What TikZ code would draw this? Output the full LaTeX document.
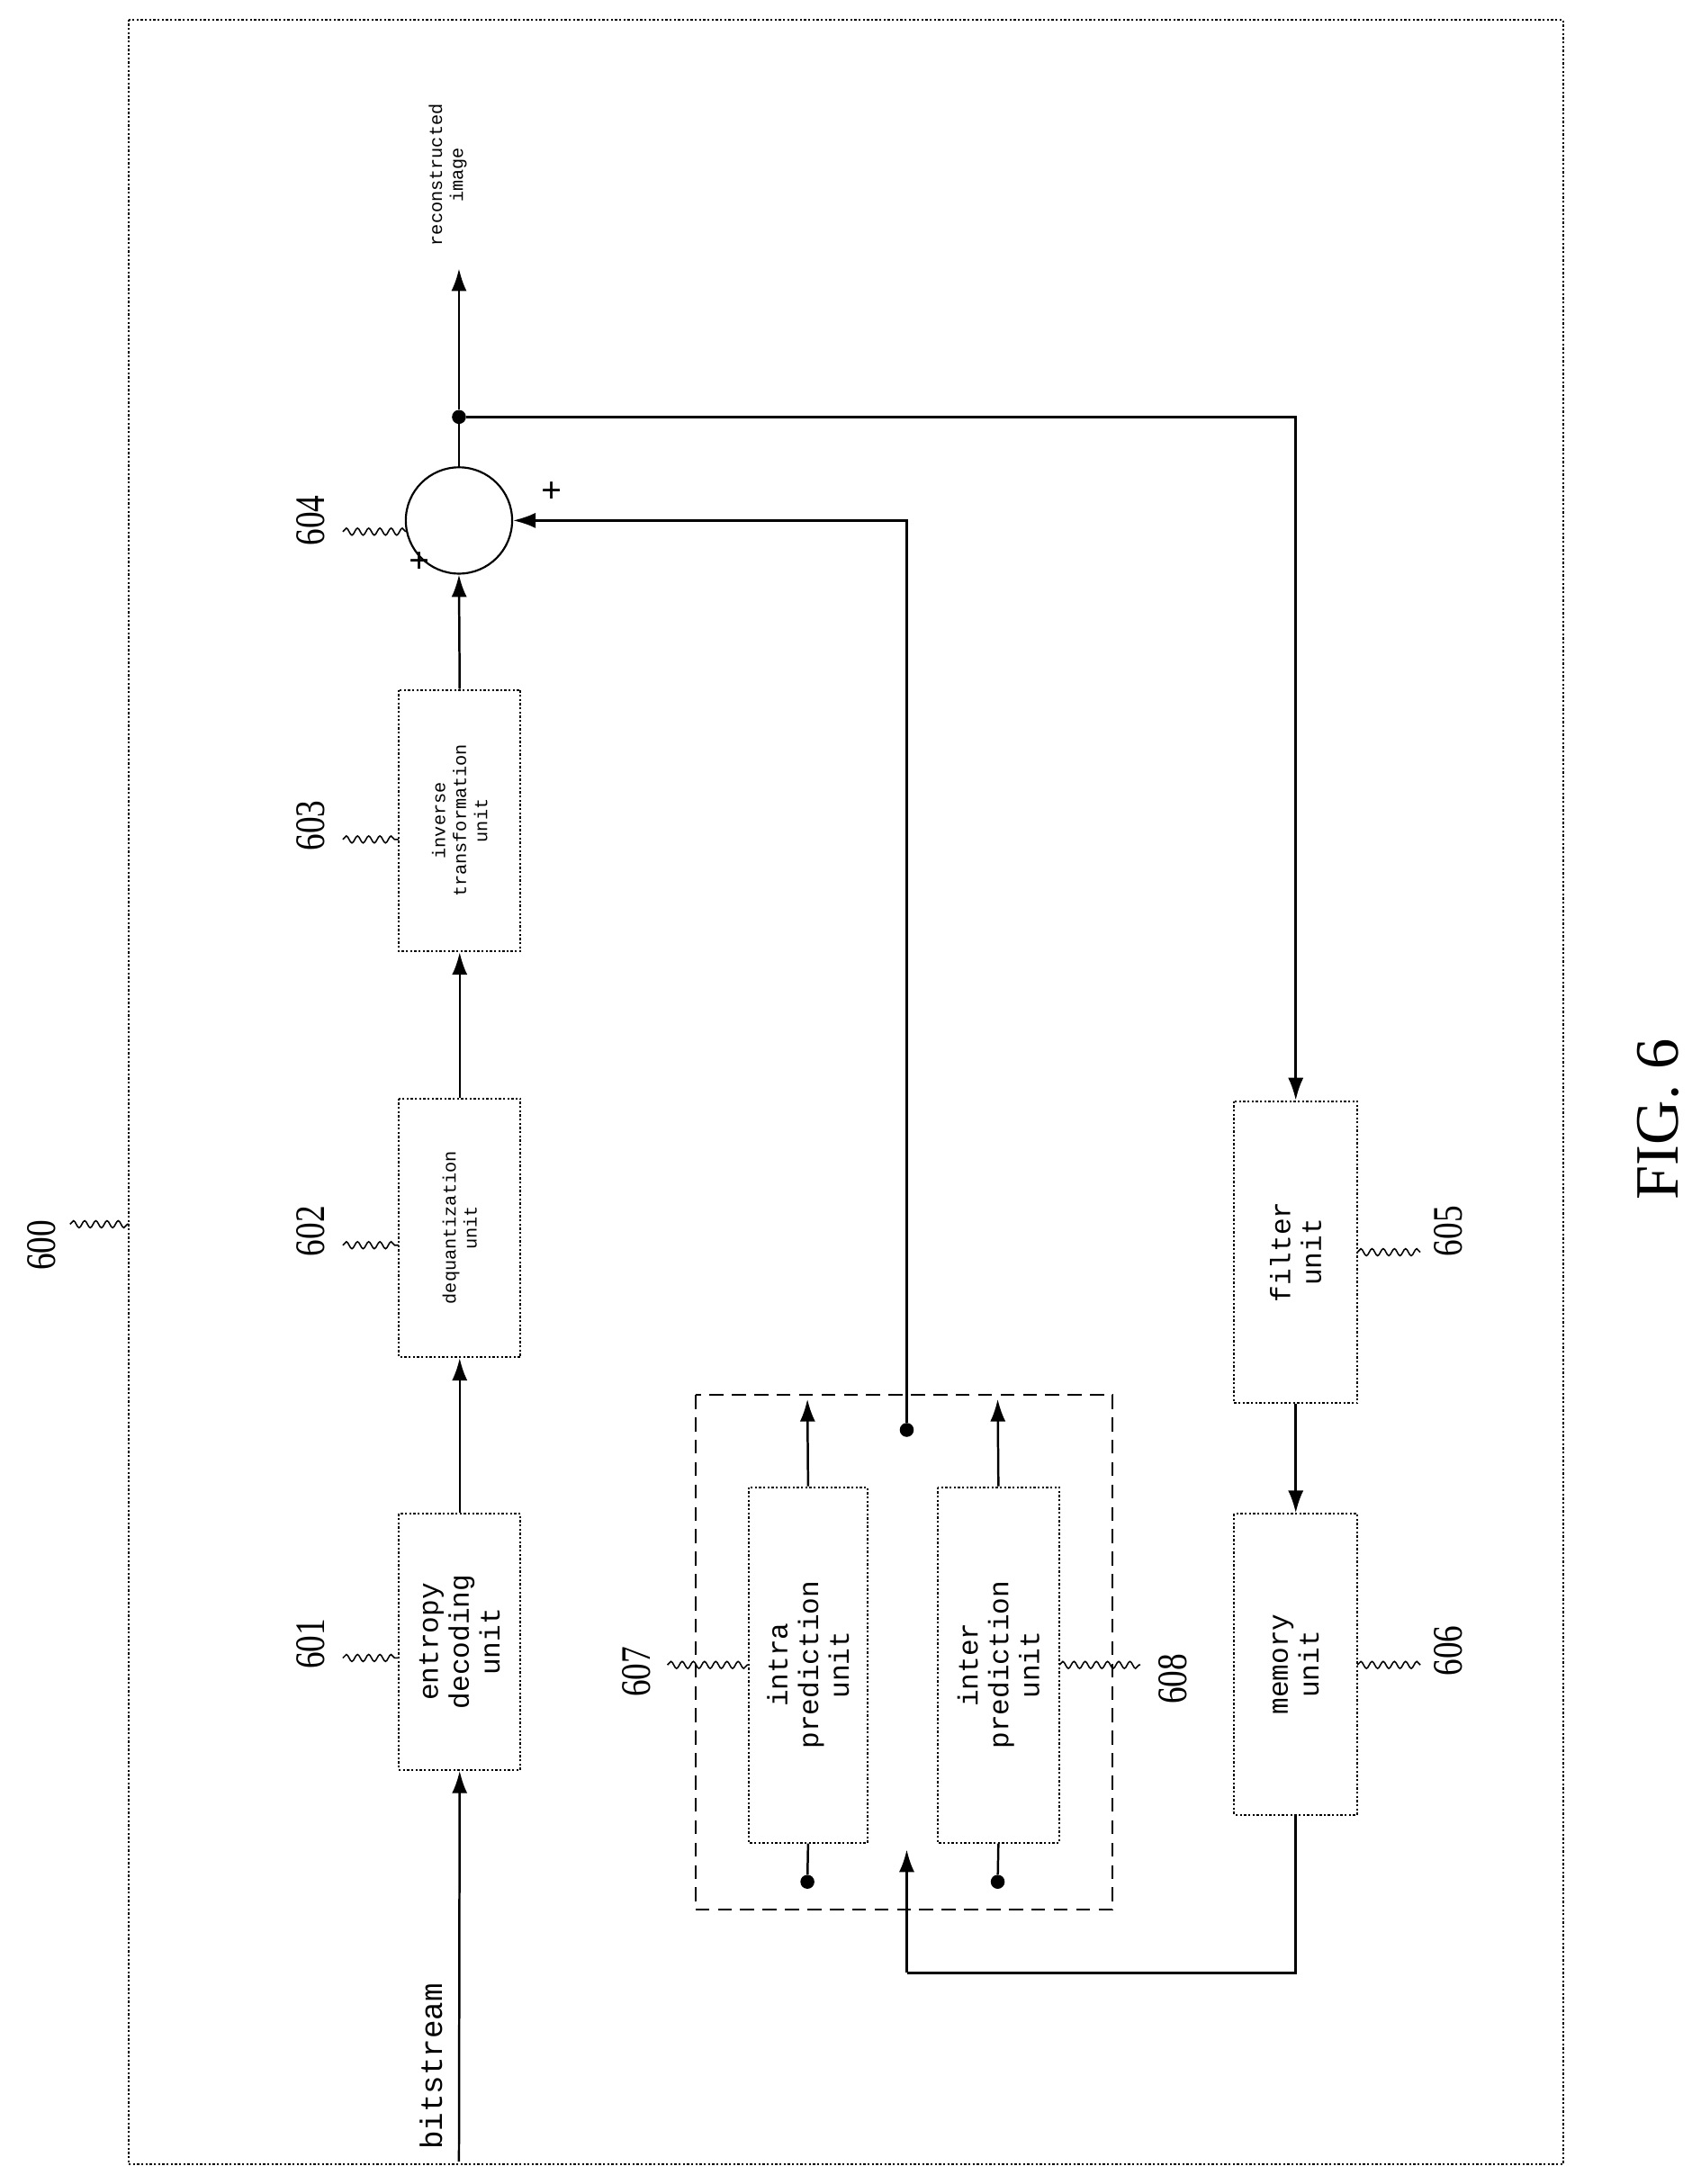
\documentclass[tikz,border=0pt]{standalone}
\usepackage{fontspec}
\setmainfont{Liberation Serif}
\setmonofont{Liberation Mono}
\usetikzlibrary{arrows.meta,decorations.pathmorphing}
\begin{document}
\begin{tikzpicture}[x=1pt,y=-1pt,
 box/.style={draw,line width=1.3pt,dash pattern=on 1.5pt off 1.5pt,inner sep=0,font=\ttfamily\fontsize{20}{22}\selectfont,align=center},
 sbox/.style={box,font=\ttfamily\fontsize{13}{15}\selectfont},
 lab/.style={font=\fontsize{30}{30}\selectfont,rotate=90,xscale=0.8},
 wire/.style={line width=1.6pt},
 arr/.style={line width=1.6pt,-{Latex[length=16pt,width=11pt]}},
 sq/.style={line width=1pt,decorate,decoration={snake,amplitude=2.5pt,segment length=8pt}},
 dot/.style={circle,fill,inner sep=0,minimum size=10pt}]
\useasboundingbox (0,0) rectangle (1209,1561);
\draw[line width=1.2pt,dash pattern=on 1.5pt off 1.5pt] (92,14) rectangle (1117,1547);
\node[lab] (l600) at (30,890) {600};
\draw[sq] (50,875) -- (92,875);
% main chain
\node[rotate=90,font=\ttfamily\fontsize{22}{24}\selectfont,anchor=west] (bits) at (308,1540) {bitstream};
\coordinate (bin) at (328,1545);
\node[box,minimum width=183pt,minimum height=87pt,rotate=90] (b601) at (328.5,1173.5) {entropy\\decoding\\unit};
\node[sbox,minimum width=185pt,minimum height=87pt,rotate=90] (b602) at (328.5,877.5) {dequantization\\unit};
\node[sbox,minimum width=187pt,minimum height=87pt,rotate=90] (b603) at (328.5,586.5) {inverse\\transformation\\unit};
\node[draw,line width=1.4pt,circle,minimum size=76pt,inner sep=0] (c604) at (328,372) {};
\draw[arr] (bin) -- (b601.west);
\draw[arr] (b601.east) -- (b602.west);
\draw[arr] (b602.east) -- (b603.west);
\draw[arr] (b603.east) -- (c604.south);
\node[font=\bfseries\fontsize{26}{26}\selectfont] (p1) at (300,402) {+};
\node[font=\bfseries\fontsize{26}{26}\selectfont] (p2) at (394,352) {+};
\node[dot] (d1) at (328,298) {};
\coordinate (out) at (328,192);
\draw[wire] (c604.north) -- (d1);
\draw[arr] (d1) -- (out);
\node[rotate=90,font=\ttfamily\fontsize{13}{15}\selectfont,align=center] (rec) at (320,125) {reconstructed\\image};
\node[lab] (l601) at (222,1175) {601};
\draw[sq] (245,1185) -- (285,1185);
\node[lab] (l602) at (222,880) {602};
\draw[sq] (245,890) -- (285,890);
\node[lab] (l603) at (222,590) {603};
\draw[sq] (245,600) -- (285,600);
\node[lab] (l604) at (222,372) {604};
\draw[sq] (245,380) -- (290,380);
% filter, memory
\node[box,minimum width=216pt,minimum height=88pt,rotate=90] (b605) at (926,895) {filter\\unit};
\node[box,minimum width=215pt,minimum height=88pt,rotate=90] (b606) at (926,1189.5) {memory\\unit};
\draw[arr] (d1) -| (b605.east);
\draw[arr] (b605.west) -- (b606.east);
\node[lab] (l605) at (1035,880) {605};
\draw[sq] (970,895) -- (1015,895);
\node[lab] (l606) at (1035,1180) {606};
\draw[sq] (970,1190) -- (1015,1190);
% prediction
\draw[line width=1.3pt,dash pattern=on 10pt off 6pt] (497,997) rectangle (795,1365);
\node[box,minimum width=254pt,minimum height=85pt,rotate=90] (b607) at (577.5,1190) {intra\\prediction\\unit};
\node[box,minimum width=254pt,minimum height=87pt,rotate=90] (b608) at (713.5,1190) {inter\\prediction\\unit};
\coordinate (t1) at (577,1000);
\coordinate (t2) at (713,1000);
\draw[arr] (b607.east) -- (t1);
\draw[arr] (b608.east) -- (t2);
\node[dot] (d2) at (577,1345) {};
\node[dot] (d3) at (713,1345) {};
\draw[wire] (d2) -- (b607.west);
\draw[wire] (d3) -- (b608.west);
\node[dot] (d4) at (648,1022) {};
\coordinate (m1) at (648,1410);
\coordinate (e1) at (648,1322);
\draw[wire] (b606.west) |- (m1);
\draw[arr] (m1) -- (e1);
\draw[arr] (d4) |- (c604.east);
\node[lab] (l607) at (455,1195) {607};
\draw[sq] (477,1190) -- (535,1190);
\node[lab] (l608) at (838,1200) {608};
\draw[sq] (757,1190) -- (815,1190);
\node[rotate=90,font=\fontsize{44}{44}\selectfont] (fig) at (1185,800) {FIG. 6};
\end{tikzpicture}
\end{document}
